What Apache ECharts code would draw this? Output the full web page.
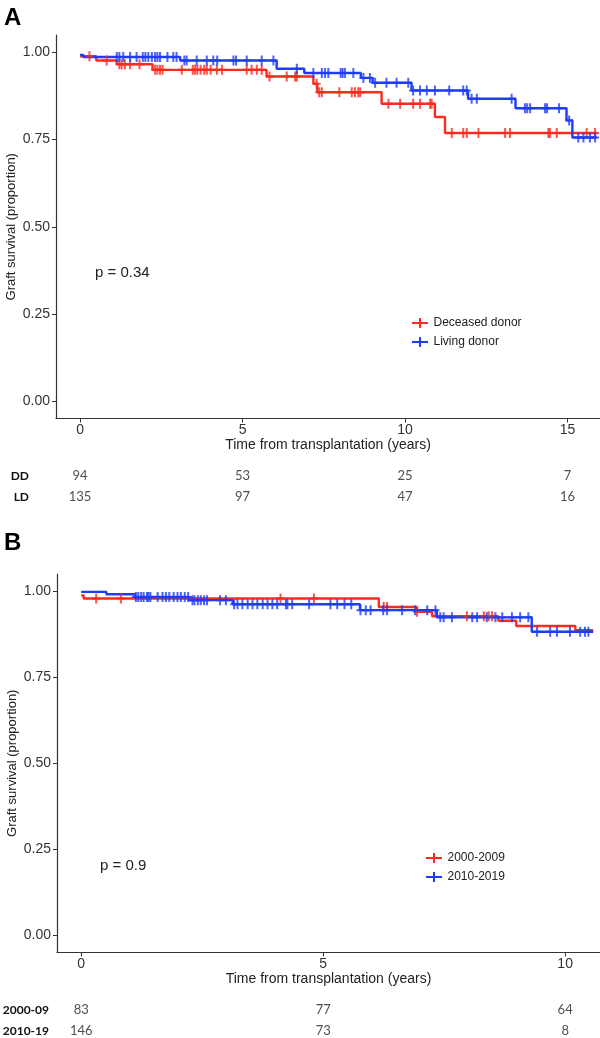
<!DOCTYPE html>
<html>
<head>
<meta charset="utf-8">
<script src="https://cdn.jsdelivr.net/npm/echarts@6/dist/echarts.min.js"></script>
<style>html,body{margin:0;padding:0;background:#fff}#c{width:600px;height:1038px}</style>
</head>
<body>
<div id="c"></div>
<script>
// ---------- Panel A data ----------
const aXTicks = [0, 5, 10, 15];
const yTicks = [0, 0.25, 0.5, 0.75, 1];
const aRedName = 'Deceased donor';
const aBlueName = 'Living donor';
const aRedT = [0, 0.5, 1.13, 2.23, 5.74, 7.18, 7.3, 9.28, 10.92, 11.23, 15.9];
const aRedS = [0.989, 0.977, 0.966, 0.950, 0.931, 0.910, 0.886, 0.853, 0.815, 0.769, 0.769];
const aBlueT = [0, 0.1, 3.08, 6.05, 6.9, 8.64, 9.0, 10.2, 11.94, 13.4, 14.97, 15.15, 15.9];
const aBlueS = [0.993, 0.987, 0.977, 0.953, 0.941, 0.927, 0.913, 0.891, 0.867, 0.840, 0.805, 0.756, 0.756];
const aRedCens = [0.29, 0.82, 1.21, 1.28, 1.38, 1.54, 1.83, 2.31, 2.38, 2.46, 2.54, 3.13, 3.47, 3.54, 3.61, 3.71, 3.82, 3.90, 4.02, 4.21, 4.37, 5.13, 5.28, 5.44, 5.59, 5.83, 6.36, 6.62, 6.67, 7.28, 7.36, 7.44, 7.98, 8.36, 8.46, 8.56, 8.62, 9.49, 9.85, 10.25, 10.46, 10.77, 10.82, 11.44, 11.79, 11.90, 12.26, 13.08, 13.23, 14.41, 14.46, 14.67, 15.59, 15.85];
const aBlueCens = [1.13, 1.21, 1.33, 1.54, 1.74, 1.93, 2.01, 2.10, 2.21, 2.31, 2.38, 2.46, 2.69, 2.87, 2.97, 3.21, 3.28, 3.59, 3.90, 4.10, 4.22, 4.72, 4.80, 5.13, 5.59, 5.95, 6.67, 7.18, 7.44, 7.54, 7.64, 8.02, 8.08, 8.15, 8.41, 8.72, 8.92, 9.08, 9.43, 9.74, 10.1, 10.25, 10.46, 10.67, 10.92, 11.36, 11.79, 11.90, 12.05, 12.21, 13.28, 13.69, 13.76, 13.85, 14.31, 14.37, 14.74, 15.05, 15.33, 15.49, 15.69, 15.85];
const aRiskRows = ['DD', 'LD'];
const aRiskDD = [94, 53, 25, 7];
const aRiskLD = [135, 97, 47, 16];

// ---------- Panel B data ----------
const bXTicks = [0, 5, 10];
const bRedName = '2000-2009';
const bBlueName = '2010-2019';
const bRedT = [0, 0.05, 6.15, 6.94, 7.25, 8.62, 8.99, 10.21, 10.58];
const bRedS = [0.988, 0.979, 0.954, 0.940, 0.927, 0.914, 0.899, 0.887, 0.887];
const bBlueT = [0, 0.52, 1.11, 2.23, 3.13, 5.76, 7.35, 9.31, 10.58];
const bBlueS = [0.998, 0.991, 0.983, 0.974, 0.962, 0.945, 0.924, 0.882, 0.882];
const bRedCens = [0.31, 0.82, 4.12, 4.81, 6.25, 6.32, 6.94, 7.97, 8.32, 8.42, 8.49];
const bBlueCens = [1.13, 1.18, 1.24, 1.29, 1.36, 1.39, 1.43, 1.58, 1.68, 1.75, 1.82, 1.91, 1.99, 2.06, 2.14, 2.21, 2.30, 2.34, 2.41, 2.47, 2.54, 2.60, 2.87, 2.99, 3.16, 3.23, 3.33, 3.44, 3.54, 3.64, 3.75, 3.85, 3.95, 4.05, 4.23, 4.26, 4.36, 4.71, 5.15, 5.29, 5.44, 5.58, 5.77, 5.88, 5.98, 6.24, 6.32, 6.63, 6.90, 7.15, 7.32, 7.42, 7.49, 7.66, 8.08, 8.18, 8.38, 8.56, 8.70, 8.90, 9.07, 9.24, 9.42, 9.69, 9.83, 10.10, 10.31, 10.41, 10.48];
const bRiskRows = ['2000-09', '2010-19'];
const bRisk0009 = [83, 77, 64];
const bRisk1019 = [146, 73, 8];

// ---------- helpers ----------
const RED = '#fb2b1e', BLUE = '#1f3cf8';
const FONT = 'Liberation Sans';
const TAB_FONT = 'Lato';
const plusLegend = 'path://M0,4h7v-4h2v4h7v2h-7v4h-2v-4h-7z';
const plusMark = 'path://M0,4h3v-4h2v4h3v2h-3v4h-2v-4h-3z';

function pairs(T, S) { return T.map((t, i) => [t, S[i]]); }
function survAt(T, S, t) { let v = S[0]; for (let i = 0; i < T.length; i++) { if (T[i] <= t) v = S[i]; } return v; }
function cens(T, S, C) { return C.map(t => [t, survAt(T, S, t)]); }

function stepSeries(name, T, S, color, xi, yi) {
  return { type: 'line', name, xAxisIndex: xi, yAxisIndex: yi, data: pairs(T, S), step: 'end',
    showSymbol: false, symbol: 'none', lineStyle: { color, width: 2.4 }, itemStyle: { color }, z: 3 };
}
function censSeries(name, T, S, C, color, xi, yi) {
  return { type: 'scatter', name, xAxisIndex: xi, yAxisIndex: yi, data: cens(T, S, C),
    symbol: plusMark, symbolSize: [8, 10], itemStyle: { color }, z: 4 };
}
function riskSeries(ticks, rowName, vals, xi, yi) {
  return { type: 'scatter', xAxisIndex: xi, yAxisIndex: yi, symbolSize: 1,
    itemStyle: { color: 'transparent' },
    data: vals.map((v, i) => [ticks[i], rowName, v]),
    label: { show: true, position: 'inside', formatter: p => String(p.value[2]),
      color: '#222', fontSize: 13, fontFamily: TAB_FONT } };
}
function plotX(grid, min, max, ticks) {
  return { type: 'value', gridIndex: grid, min, max,
    name: 'Time from transplantation (years)', nameLocation: 'middle', nameGap: 16,
    nameTextStyle: { fontSize: 14, color: '#222', fontFamily: FONT },
    axisLine: { show: true, onZero: false, lineStyle: { color: '#333', width: 1.2 } },
    axisTick: { show: true, length: 4, customValues: ticks, lineStyle: { color: '#333' } },
    axisLabel: { customValues: ticks, margin: 5, fontSize: 14, color: '#333', fontFamily: FONT },
    splitLine: { show: false } };
}
function plotY(grid) {
  return { type: 'value', gridIndex: grid, min: -0.05, max: 1.05,
    name: 'Graft survival (proportion)', nameLocation: 'middle', nameRotate: 90, nameGap: 38,
    nameMoveOverlap: false,
    nameTextStyle: { fontSize: 13, color: '#222', fontFamily: FONT },
    axisLine: { show: true, onZero: false, lineStyle: { color: '#333', width: 1.2 } },
    axisTick: { show: true, length: 4, customValues: yTicks, lineStyle: { color: '#333' } },
    axisLabel: { customValues: yTicks, formatter: v => v.toFixed(2), margin: 6, fontSize: 14, color: '#333', fontFamily: FONT },
    splitLine: { show: false } };
}
function riskX(grid, min, max) {
  return { type: 'value', gridIndex: grid, min, max, show: false, splitLine: { show: false } };
}
function riskY(grid, rows, margin) {
  return { type: 'category', gridIndex: grid, data: rows, inverse: true,
    axisLine: { show: false }, axisTick: { show: false }, splitLine: { show: false },
    axisLabel: { margin, fontSize: 12, fontWeight: 'bold', color: '#111', fontFamily: TAB_FONT } };
}

const chart = echarts.init(document.getElementById('c'), null, { renderer: 'canvas' });
chart.setOption({
  animation: false,
  backgroundColor: '#fff',
  grid: [
    { left: 56, top: 35, width: 544, height: 383.5, outerBoundsMode: 'none', containLabel: false },
    { left: 56, top: 465.5, width: 544, height: 42, outerBoundsMode: 'none', containLabel: false },
    { left: 57, top: 574, width: 543, height: 378.5, outerBoundsMode: 'none', containLabel: false },
    { left: 57, top: 999.5, width: 543, height: 42, outerBoundsMode: 'none', containLabel: false }
  ],
  xAxis: [
    plotX(0, -0.74, 16.0, aXTicks),
    riskX(1, -0.74, 16.0),
    plotX(2, -0.5, 10.72, bXTicks),
    riskX(3, -0.5, 10.72)
  ],
  yAxis: [
    plotY(0),
    riskY(1, aRiskRows, 27),
    plotY(2),
    riskY(3, bRiskRows, 8)
  ],
  legend: [
    { data: [aRedName, aBlueName], orient: 'vertical', left: 407, top: 312, itemWidth: 17, itemHeight: 10, itemGap: 7,
      icon: plusLegend, textStyle: { fontSize: 12, color: '#222', fontFamily: FONT }, selectedMode: false },
    { data: [bRedName, bBlueName], orient: 'vertical', left: 421, top: 847, itemWidth: 17, itemHeight: 10, itemGap: 7,
      icon: plusLegend, textStyle: { fontSize: 12, color: '#222', fontFamily: FONT }, selectedMode: false }
  ],
  graphic: [
    { type: 'text', left: 4, top: 6, style: { text: 'A', fontSize: 24, fontWeight: 'bold', fill: '#000', fontFamily: FONT } },
    { type: 'text', left: 4, top: 531, style: { text: 'B', fontSize: 24, fontWeight: 'bold', fill: '#000', fontFamily: FONT } },
    { type: 'text', left: 95, top: 265, style: { text: 'p = 0.34', fontSize: 15, fill: '#222', fontFamily: FONT } },
    { type: 'text', left: 100, top: 858, style: { text: 'p = 0.9', fontSize: 15, fill: '#222', fontFamily: FONT } }
  ],
  series: [
    stepSeries(aRedName, aRedT, aRedS, RED, 0, 0),
    stepSeries(aBlueName, aBlueT, aBlueS, BLUE, 0, 0),
    censSeries(aRedName, aRedT, aRedS, aRedCens, RED, 0, 0),
    censSeries(aBlueName, aBlueT, aBlueS, aBlueCens, BLUE, 0, 0),
    riskSeries(aXTicks, 'DD', aRiskDD, 1, 1),
    riskSeries(aXTicks, 'LD', aRiskLD, 1, 1),
    stepSeries(bRedName, bRedT, bRedS, RED, 2, 2),
    stepSeries(bBlueName, bBlueT, bBlueS, BLUE, 2, 2),
    censSeries(bRedName, bRedT, bRedS, bRedCens, RED, 2, 2),
    censSeries(bBlueName, bBlueT, bBlueS, bBlueCens, BLUE, 2, 2),
    riskSeries(bXTicks, '2000-09', bRisk0009, 3, 3),
    riskSeries(bXTicks, '2010-19', bRisk1019, 3, 3)
  ]
});
</script>
</body>
</html>
